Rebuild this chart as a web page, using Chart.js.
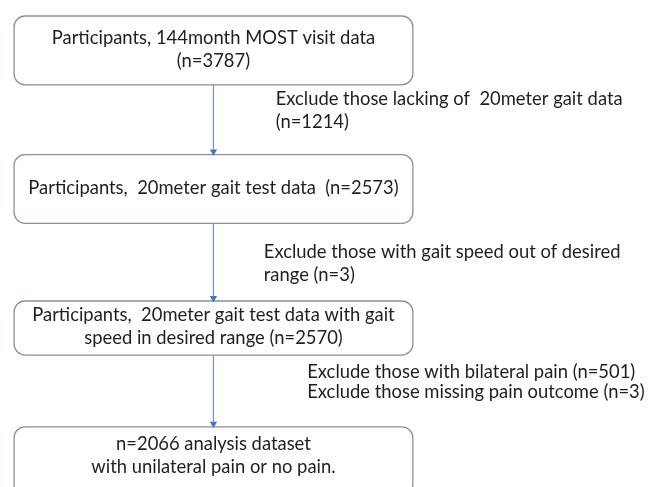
<!DOCTYPE html>
<html>
<head>
<meta charset="utf-8">
<script src="https://cdn.jsdelivr.net/npm/chart.js@4"></script>
<style>
  html, body { margin: 0; padding: 0; background: #fff; }
  #wrap { width: 650px; height: 487px; }
</style>
</head>
<body>
<div id="wrap"><canvas id="flow"></canvas></div>
<script>
// flow stages (top to bottom) and their counts
const stageN = [3787, 2573, 2570, 2066];
const stageLines = [
  ['Participants, 144month MOST visit data', '(n=3787)'],
  ['Participants,  20meter gait test data  (n=2573)'],
  ['Participants,  20meter gait test data with gait', 'speed in desired range (n=2570)'],
  ['n=2066 analysis dataset', 'with unilateral pain or no pain.']
];
// exclusions between stages
const excludedN = [[1214], [3], [501, 3]];
const exclusionLines = [
  ['Exclude those lacking of  20meter gait data', '(n=1214)'],
  ['Exclude those with gait speed out of desired', 'range (n=3)'],
  ['Exclude those with bilateral pain (n=501)', 'Exclude those missing pain outcome (n=3)']
];

// layout in axis units (x: 0-650, y: 0-487 top-down)
const boxX = [10, 414];
const boxY = [[12, 82], [153, 223], [302, 357], [430, 500]];
const stemX = 212;
const textY = [[34, 58], [187], [316, 340], [448, 471]];
const noteX = [275, 263, 307];
const noteY = [[97, 120], [252, 276], [374, 395]];

const FONT = 'Lato, "Liberation Sans", sans-serif';

const arrows = boxY.slice(0, -1).map((b, i) => ({
  type: 'scatter',
  data: [{x: stemX, y: b[1]}, {x: stemX, y: boxY[i + 1][0] - 3}],
  showLine: true,
  borderColor: '#7390b8',
  borderWidth: 1.2,
  pointStyle: 'triangle',
  rotation: 180,
  pointRadius: [0, 4.2],
  pointBackgroundColor: '#4472c4',
  pointBorderColor: '#4472c4',
  pointBorderWidth: 0
}));

const flowPlugin = {
  id: 'flowBoxes',
  beforeDatasetsDraw(chart) {
    const {ctx, scales: {x, y}} = chart;
    ctx.save();
    ctx.strokeStyle = '#8c9099';
    ctx.lineWidth = 1.3;
    boxY.forEach(b => {
      const l = x.getPixelForValue(boxX[0]), r = x.getPixelForValue(boxX[1]);
      const t = y.getPixelForValue(b[0]), btm = y.getPixelForValue(b[1]);
      ctx.beginPath();
      ctx.roundRect(l, t, r - l, btm - t, 11);
      ctx.stroke();
    });
    ctx.restore();
  },
  afterDatasetsDraw(chart) {
    const {ctx, scales: {x, y}} = chart;
    ctx.save();
    ctx.fillStyle = '#1e1e1e';
    ctx.textBaseline = 'middle';
    ctx.font = '18.4px ' + FONT;
    ctx.textAlign = 'center';
    const cx = x.getPixelForValue((boxX[0] + boxX[1]) / 2);
    stageLines.forEach((lines, i) => {
      lines.forEach((s, j) => ctx.fillText(s, cx, y.getPixelForValue(textY[i][j])));
    });
    ctx.textAlign = 'left';
    exclusionLines.forEach((lines, i) => {
      lines.forEach((s, j) => ctx.fillText(s, x.getPixelForValue(noteX[i]), y.getPixelForValue(noteY[i][j])));
    });
    ctx.restore();
  }
};

new Chart(document.getElementById('flow'), {
  type: 'scatter',
  data: { datasets: arrows },
  options: {
    responsive: true,
    maintainAspectRatio: false,
    animation: false,
    layout: { padding: 0 },
    scales: {
      x: { type: 'linear', min: 0, max: 650, display: false },
      y: { type: 'linear', min: 0, max: 487, reverse: true, display: false }
    },
    plugins: {
      legend: { display: false },
      tooltip: { enabled: false }
    }
  },
  plugins: [flowPlugin]
});
</script>
</body>
</html>
